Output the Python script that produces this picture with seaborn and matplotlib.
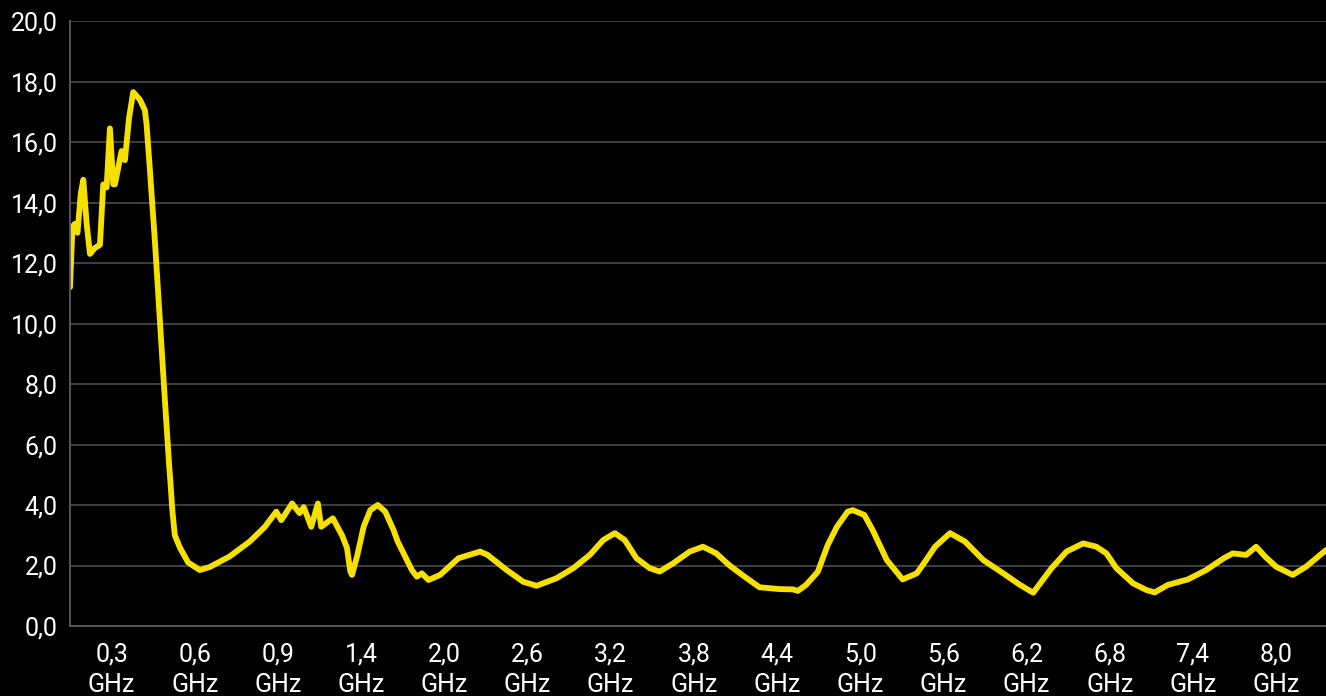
import matplotlib
matplotlib.use("Agg")
import matplotlib.pyplot as plt
import seaborn as sns
import pandas as pd

# frequency bands shown on the x axis (one category each)
freq_labels = ["0,3", "0,6", "0,9", "1,4", "2,0", "2,6", "3,2", "3,8",
               "4,4", "5,0", "5,6", "6,2", "6,8", "7,4", "8,0"]

# position along the axis, in category units (0 = left edge)
position = [0.00, 0.03, 0.06, 0.09, 0.13, 0.16, 0.20, 0.24, 0.30, 0.36,
            0.40, 0.44, 0.48, 0.52, 0.54, 0.62, 0.66, 0.71, 0.76, 0.84,
            0.90, 0.92, 0.96, 1.02, 1.08, 1.14, 1.19, 1.21, 1.23, 1.26,
            1.32, 1.42, 1.56, 1.68, 1.92, 2.16, 2.34, 2.48, 2.54, 2.67,
            2.76, 2.81, 2.90, 2.98, 3.02, 3.16, 3.27, 3.33, 3.37, 3.39,
            3.45, 3.53, 3.61, 3.70, 3.79, 3.89, 3.94, 4.03, 4.11, 4.17,
            4.23, 4.31, 4.45, 4.67, 4.93, 5.02, 5.25, 5.45, 5.61, 5.85,
            6.05, 6.25, 6.41, 6.55, 6.67, 6.81, 6.97, 7.09, 7.25, 7.45,
            7.61, 7.77, 7.93, 8.11, 8.29, 8.53, 8.69, 8.75, 8.85, 8.99,
            9.11, 9.22, 9.35, 9.41, 9.55, 9.65, 9.82, 10.01, 10.18, 10.28,
            10.40, 10.58, 10.76, 10.98, 11.22, 11.42, 11.58, 11.80, 11.98, 12.18,
            12.34, 12.46, 12.58, 12.78, 12.94, 13.04, 13.20, 13.44, 13.66, 13.87,
            13.98, 14.14, 14.26, 14.37, 14.50, 14.70, 14.86, 15.10]

# measured level
level = [11.2, 13.2, 13.3, 13.0, 14.3, 14.75, 13.3, 12.3, 12.5, 12.6,
         14.6, 14.5, 16.45, 14.6, 14.6, 15.7, 15.4, 16.8, 17.65, 17.4,
         17.05, 16.6, 15.1, 12.75, 10.1, 7.5, 5.4, 4.66, 3.83, 3.0,
         2.6, 2.1, 1.85, 1.95, 2.3, 2.79, 3.27, 3.78, 3.5, 4.05,
         3.73, 3.93, 3.28, 4.05, 3.28, 3.56, 3.0, 2.58, 1.8, 1.69,
         2.29, 3.28, 3.83, 4.0, 3.78, 3.17, 2.79, 2.29, 1.85, 1.63,
         1.74, 1.52, 1.69, 2.24, 2.46, 2.35, 1.85, 1.46, 1.33, 1.58,
         1.91, 2.35, 2.84, 3.07, 2.84, 2.24, 1.91, 1.80, 2.07, 2.46,
         2.62, 2.40, 2.0, 1.63, 1.28, 1.22, 1.21, 1.16, 1.36, 1.79,
         2.68, 3.28, 3.78, 3.83, 3.67, 3.17, 2.18, 1.54, 1.74, 2.13,
         2.62, 3.07, 2.79, 2.18, 1.74, 1.36, 1.10, 1.91, 2.46, 2.73,
         2.62, 2.40, 1.91, 1.41, 1.19, 1.11, 1.36, 1.54, 1.85, 2.24,
         2.40, 2.35, 2.62, 2.29, 1.96, 1.69, 1.96, 2.51]

df = pd.DataFrame({"pos": position, "level": level})

sns.set_theme(style="dark", rc={
    "figure.facecolor": "black",
    "axes.facecolor": "black",
    "axes.edgecolor": "#5a5a5a",
    "grid.color": "#454545",
    "text.color": "white",
    "xtick.color": "white",
    "ytick.color": "white",
})
plt.rcParams["font.family"] = ["Roboto", "DejaVu Sans"]

fig = plt.figure(figsize=(13.26, 6.96), dpi=100)
ax = fig.add_axes([70 / 1326, 1 - 626 / 696, 1 - 70 / 1326, 605 / 696])

sns.lineplot(data=df, x="pos", y="level", ax=ax, color="#f5e000",
             linewidth=4.2, sort=False, estimator=None,
             solid_joinstyle="round", solid_capstyle="round")

ax.set_xlim(0, 15.1)
ax.set_ylim(0, 20)
ax.set_yticks(range(0, 21, 2))
ax.set_yticklabels([f"{v},0" for v in range(0, 21, 2)], fontsize=18)
ax.set_xticks([i + 0.5 for i in range(len(freq_labels))])
ax.set_xticklabels([f"{lab}\nGHz" for lab in freq_labels], fontsize=18,
                   linespacing=1.35)
ax.tick_params(axis="both", length=0)
ax.tick_params(axis="x", pad=12)
ax.tick_params(axis="y", pad=9)

ax.grid(axis="y", color="#454545", linewidth=1.3)
ax.grid(axis="x", visible=False)
ax.set_xlabel("")
ax.set_ylabel("")
for side in ["top", "right"]:
    ax.spines[side].set_visible(False)
ax.spines["left"].set_color("#5a5a5a")
ax.spines["bottom"].set_color("#5a5a5a")
ax.spines["left"].set_linewidth(1.3)
ax.spines["bottom"].set_linewidth(1.3)

fig.savefig("out.png", dpi=100, facecolor="black")
